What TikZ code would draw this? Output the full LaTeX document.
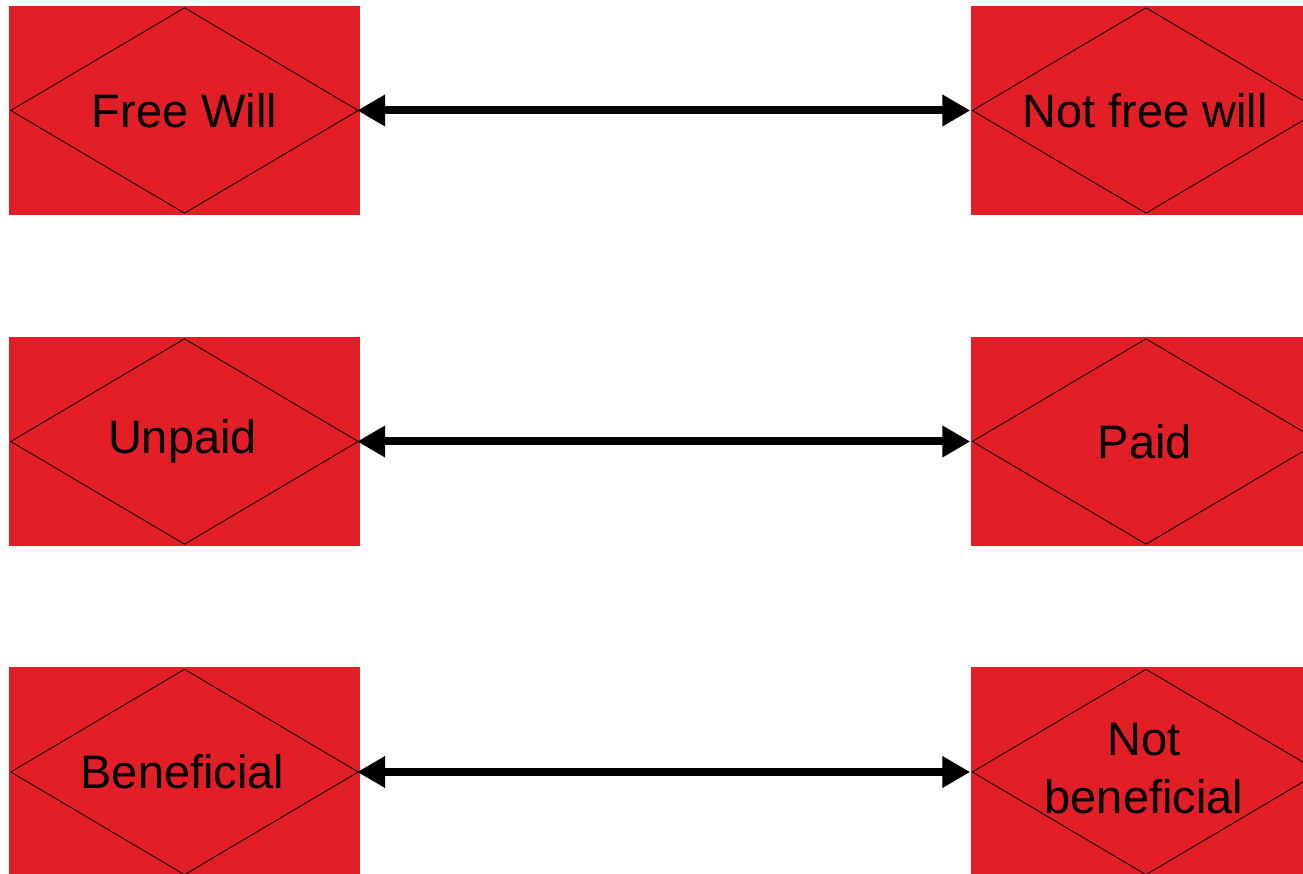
\documentclass[tikz,border=0pt]{standalone}
\usepackage{fontspec}
\setmainfont{Liberation Sans}
\usetikzlibrary{arrows.meta}
\definecolor{boxred}{RGB}{226,31,38}
\tikzset{
  redbox/.style={rectangle, fill=boxred, draw=none, minimum width=351pt, minimum height=209pt, inner sep=0pt,
     font=\fontsize{47}{58}\selectfont, align=center, text=black},
  label/.style={font=\fontsize{47}{58}\selectfont, align=center, text=black},
  diamondline/.style={draw=black, line width=0.8pt},
  link/.style={line width=8pt, {Triangle[length=28pt,width=30pt]}-{Triangle[length=28pt,width=30pt]}}
}
\newcommand{\diamondin}[1]{%
  \draw[diamondline] ([xshift=2pt]#1.west) -- ([yshift=-2pt]#1.north) -- ([xshift=-2pt]#1.east) -- ([yshift=2pt]#1.south) -- cycle;}
\begin{document}
\begin{tikzpicture}[x=1pt,y=1pt]
\useasboundingbox (0,0) rectangle (1303,874);
\begin{scope}
\clip (0,0) rectangle (1303,874);
\node[redbox] (fw) at (184.5,763.5) {};
\node[redbox] (nfw) at (1146,763.5) {};
\node[redbox] (up) at (184.5,432.5) {};
\node[redbox] (pd) at (1146,432.5) {};
\node[redbox] (bn) at (184.5,102) {};
\node[redbox] (nbn) at (1146,102) {};
\diamondin{fw}
\diamondin{nfw}
\diamondin{up}
\diamondin{pd}
\diamondin{bn}
\diamondin{nbn}
\node[label] (tfw) at (fw) {Free Will};
\node[label] (tnfw) at ([xshift=-1pt]nfw.center) {Not free will};
\node[label] (tup) at ([xshift=-2pt]up.center) {Unpaid};
\node[label] (tpd) at ([xshift=-1pt]pd.center) {Paid};
\node[label] (tbn) at ([xshift=-2pt]bn.center) {Beneficial};
\node[label] (tnbn) at ([xshift=-2pt,yshift=3pt]nbn.center) {Not\\beneficial};
\draw[link] ([xshift=-3pt]fw.east) -- (nfw.west);
\draw[link] ([xshift=-3pt]up.east) -- (pd.west);
\draw[link] ([xshift=-3pt]bn.east) -- (nbn.west);
\end{scope}
\end{tikzpicture}
\end{document}
